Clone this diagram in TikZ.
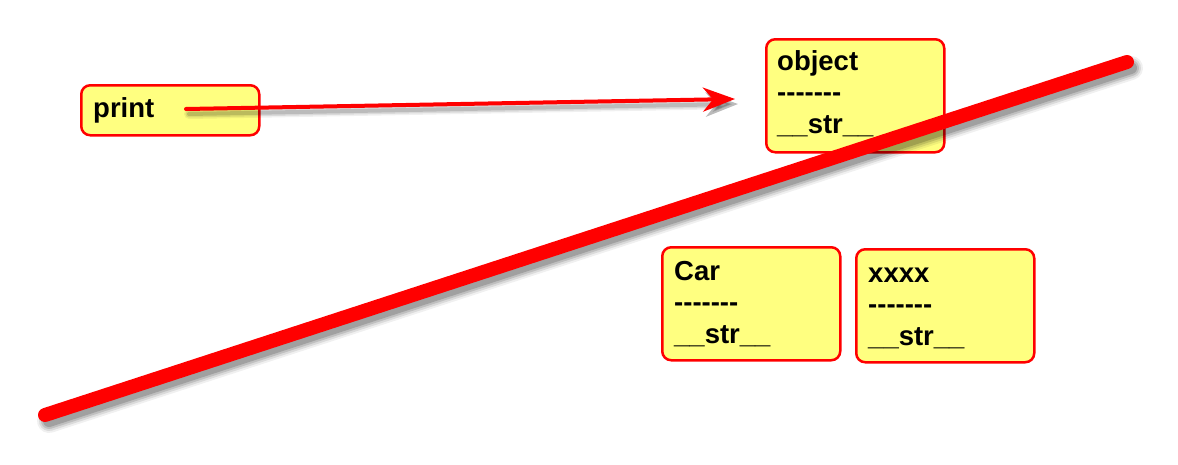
\documentclass[tikz,border=0pt]{standalone}
\usepackage{fontspec}
\newfontfamily\boxfont{Liberation Sans}
\usetikzlibrary{arrows.meta,calc}
\definecolor{boxfill}{HTML}{FFFF80}
\definecolor{boxred}{HTML}{FF0000}
\tikzset{
  classbox/.style={draw=boxred, line width=2.5pt, fill=boxfill, rounded corners=9pt,
    anchor=north west, inner sep=0pt, minimum width=178pt},
  boxtext/.style={anchor=north west, inner sep=0pt, align=left,
    font=\boxfont\fontsize{27.5}{31.5}\selectfont\bfseries},
  shadowstroke/.style={draw=black, line cap=round},
  redline/.style={draw=boxred, line cap=round},
}
\begin{document}
\begin{tikzpicture}[x=1pt,y=-1pt]
\useasboundingbox[fill=white] (0,0) rectangle (1178,464);

% boxes
\node[classbox, minimum height=50pt] (printbox) at (80,84) {};
\node[boxtext] (printtxt) at (93,95) {\strut print};

\node[classbox, minimum height=113pt] (objbox) at (765,38) {};
\node[boxtext] (objtxt) at (777,48) {\strut object\\\strut -------\\\strut \_\_str\_\_};

\node[classbox, minimum height=113pt] (carbox) at (661,246) {};
\node[boxtext] (cartxt) at (674,258) {\strut Car\\\strut -------\\\strut \_\_str\_\_};

\node[classbox, minimum height=113pt] (xbox) at (855,248) {};
\node[boxtext] (xtxt) at (868,260) {\strut xxxx\\\strut -------\\\strut \_\_str\_\_};

% arrow from print
\coordinate (arrS) at (186,109);
\coordinate (arrE) at (735,99);
\foreach \w/\o in {10/0.06,7/0.09,4/0.14}{
  \draw[shadowstroke, opacity=\o, line width=\w pt,
    -{Stealth[length=32pt,width=24pt,inset=10pt]}]
    ($(arrS)+(3,5)$) -- ($(arrE)+(3,5)$);
}
\draw[redline, line width=4pt, -{Stealth[length=32pt,width=24pt,inset=10pt]}] (arrS) -- (arrE);

% big strike line
\coordinate (lnA) at (45,415);
\coordinate (lnB) at (1127,62);
\foreach \w/\o in {24/0.06,20/0.09,16/0.12,12/0.16}{
  \draw[shadowstroke, opacity=\o, line width=\w pt] ($(lnA)+(4,6)$) -- ($(lnB)+(4,6)$);
}
\draw[redline, line width=14pt] (lnA) -- (lnB);
\end{tikzpicture}
\end{document}
